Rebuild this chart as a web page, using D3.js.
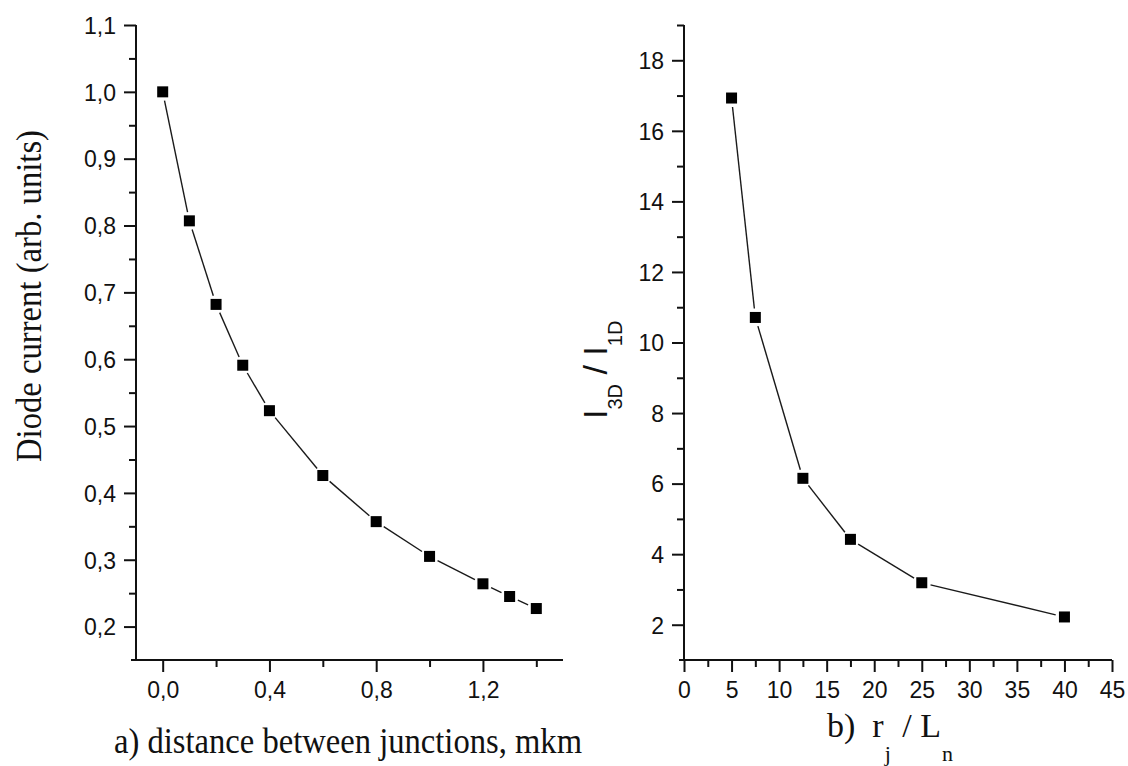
<!DOCTYPE html>
<html>
<head>
<meta charset="utf-8">
<script src="https://cdn.jsdelivr.net/npm/d3@7"></script>
<style>
  html, body { margin: 0; padding: 0; background: #fff; }
  svg { display: block; }
  .tick text { font-family: "Liberation Sans", Arial, sans-serif; font-size: 23px; fill: #111; }
  .title { font-family: "Liberation Serif", "Times New Roman", serif; fill: #111; white-space: pre; }
  .stitle { font-family: "Liberation Sans", Arial, sans-serif; fill: #111; white-space: pre; }
</style>
</head>
<body>
<svg id="chart" width="1128" height="766"></svg>
<script>
// Panel a: diode current vs distance between junctions
const distA = [0, 0.1, 0.2, 0.3, 0.4, 0.6, 0.8, 1.0, 1.2, 1.3, 1.4];
const currentA = [1.0, 0.807, 0.682, 0.591, 0.523, 0.426, 0.357, 0.305, 0.264, 0.245, 0.227];
const ticksAX = [0, 0.4, 0.8, 1.2];
const minorAX = [0.2, 0.6, 1.0, 1.4];
const ticksAY = [0.2, 0.3, 0.4, 0.5, 0.6, 0.7, 0.8, 0.9, 1.0, 1.1];
const minorAY = [0.25, 0.35, 0.45, 0.55, 0.65, 0.75, 0.85, 0.95, 1.05];

// Panel b: I3D / I1D vs rj / Ln
const ratioB = [5, 7.5, 12.5, 17.5, 25, 40];
const currentRatioB = [16.93, 10.71, 6.15, 4.42, 3.19, 2.22];
const ticksBX = [0, 5, 10, 15, 20, 25, 30, 35, 40, 45];
const minorBX = [2.5, 7.5, 12.5, 17.5, 22.5, 27.5, 32.5, 37.5, 42.5];
const ticksBY = [2, 4, 6, 8, 10, 12, 14, 16, 18];
const minorBY = [3, 5, 7, 9, 11, 13, 15, 17, 19];

const svg = d3.select("#chart");
const commaFmt = d => d3.format(".1f")(d).replace(".", ",");

const MAJOR = 12, MINOR = 7, MARK = 11, GAP = 9;

function panel(cfg) {
  const x = d3.scaleLinear().domain(cfg.xDomain).range([cfg.left, cfg.right]);
  const y = d3.scaleLinear().domain(cfg.yDomain).range([cfg.bottom, cfg.top]);
  const g = svg.append("g");

  // minor ticks
  g.append("g").attr("transform", `translate(0,${cfg.bottom})`)
    .call(d3.axisBottom(x).tickValues(cfg.minorX).tickSize(MINOR).tickFormat(""))
    .call(s => s.select(".domain").remove());
  g.append("g").attr("transform", `translate(${cfg.left},0)`)
    .call(d3.axisLeft(y).tickValues(cfg.minorY).tickSize(MINOR).tickFormat(""))
    .call(s => s.select(".domain").remove());

  // major ticks with labels
  const ax = g.append("g").attr("transform", `translate(0,${cfg.bottom})`)
    .call(d3.axisBottom(x).tickValues(cfg.ticksX).tickSize(MAJOR).tickPadding(9).tickFormat(cfg.fmt))
    .call(s => s.select(".domain").remove());
  const ay = g.append("g").attr("transform", `translate(${cfg.left},0)`)
    .call(d3.axisLeft(y).tickValues(cfg.ticksY).tickSize(MAJOR).tickPadding(8).tickFormat(cfg.fmt))
    .call(s => s.select(".domain").remove());
  ax.selectAll("text").attr("dy", "0.72em");
  ay.selectAll("text").attr("dy", "0.36em");

  // axis lines
  g.append("line").attr("x1", cfg.left - 5).attr("x2", cfg.right)
    .attr("y1", cfg.bottom).attr("y2", cfg.bottom);
  g.append("line").attr("x1", cfg.left).attr("x2", cfg.left)
    .attr("y1", cfg.bottom + 1).attr("y2", cfg.top);
  g.selectAll("line").attr("stroke", "#111").attr("stroke-width", 2);
  g.selectAll(".tick line").attr("stroke", "#111").attr("stroke-width", 2);

  // connecting line, broken around each marker
  const pts = cfg.xs.map((v, i) => [x(v), y(cfg.ys[i])]);
  const segs = d3.pairs(pts).map(([a, b]) => {
    const dx = b[0] - a[0], dy = b[1] - a[1], L = Math.hypot(dx, dy);
    const ux = dx / L, uy = dy / L;
    return [a[0] + ux * GAP, a[1] + uy * GAP, b[0] - ux * GAP, b[1] - uy * GAP];
  });
  g.append("g").selectAll("line").data(segs).join("line")
    .attr("x1", d => d[0]).attr("y1", d => d[1])
    .attr("x2", d => d[2]).attr("y2", d => d[3])
    .attr("stroke", "#1a1a1a").attr("stroke-width", 1.4);

  g.append("g").selectAll("rect").data(cfg.xs).join("rect")
    .attr("x", (d, i) => x(d) - MARK / 2)
    .attr("y", (d, i) => y(cfg.ys[i]) - MARK / 2)
    .attr("width", MARK).attr("height", MARK)
    .attr("fill", "#000");
  return { x, y };
}

panel({
  xs: distA, ys: currentA,
  xDomain: [-0.1, 1.5], yDomain: [0.15, 1.1],
  left: 136, right: 563, top: 25, bottom: 660,
  ticksX: ticksAX, minorX: minorAX, ticksY: ticksAY, minorY: minorAY,
  fmt: commaFmt
});

panel({
  xs: ratioB, ys: currentRatioB,
  xDomain: [0, 45], yDomain: [1, 19],
  left: 684, right: 1112, top: 25, bottom: 660,
  ticksX: ticksBX, minorX: minorBX, ticksY: ticksBY, minorY: minorBY,
  fmt: d3.format("d")
});

// axis titles
svg.append("text").attr("class", "title")
  .attr("transform", "translate(41,296) rotate(-90)")
  .attr("text-anchor", "middle").attr("font-size", 36)
  .attr("textLength", 332).attr("lengthAdjust", "spacingAndGlyphs")
  .text("Diode current (arb. units)");

svg.append("text").attr("class", "title")
  .attr("x", 348).attr("y", 753)
  .attr("text-anchor", "middle").attr("font-size", 36)
  .attr("textLength", 468).attr("lengthAdjust", "spacingAndGlyphs")
  .text("a) distance between junctions, mkm");

const tb = svg.append("text").attr("class", "title")
  .attr("x", 827).attr("y", 737).attr("font-size", 34);
tb.append("tspan").text("b)  r");
tb.append("tspan").attr("font-size", 22).attr("dx", 1).attr("dy", 24).text("j");
tb.append("tspan").attr("dx", 3).attr("dy", -24).text(" / L");
tb.append("tspan").attr("font-size", 22).attr("dx", 1).attr("dy", 24).text("n");

const ty = svg.append("text").attr("class", "stitle")
  .attr("transform", "translate(607,419) rotate(-90)")
  .attr("font-size", 34);
ty.append("tspan").text("I");
ty.append("tspan").attr("font-size", 20).attr("dy", 15).text("3D");
ty.append("tspan").attr("dy", -15).text(" / I");
ty.append("tspan").attr("font-size", 20).attr("dy", 15).text("1D");
</script>
</body>
</html>
